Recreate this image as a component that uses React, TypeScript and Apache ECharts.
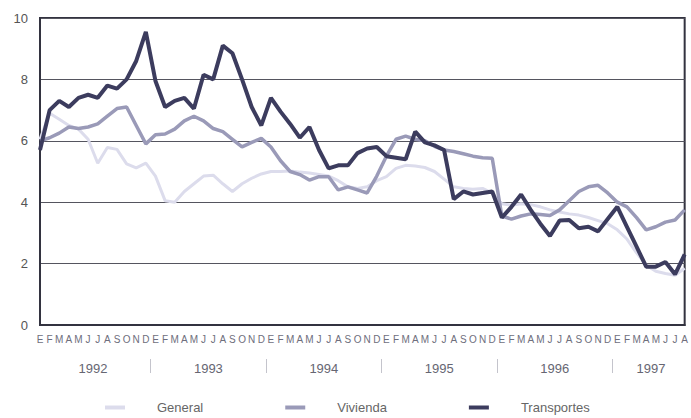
import React, { useEffect, useRef } from "react";
import * as echarts from "echarts";

const months = [
  "E","F","M","A","M","J","J","A","S","O","N","D",
  "E","F","M","A","M","J","J","A","S","O","N","D",
  "E","F","M","A","M","J","J","A","S","O","N","D",
  "E","F","M","A","M","J","J","A","S","O","N","D",
  "E","F","M","A","M","J","J","A","S","O","N","D",
  "E","F","M","A","M","J","J","A",
];

const years = ["1992", "1993", "1994", "1995", "1996", "1997"];
const yearCenters = [5.5, 17.5, 29.5, 41.5, 53.5, 63.5];
const yearSeparators = [11.5, 23.5, 35.5, 47.5, 59.5];

const general = [
  6.05, 6.9, 6.7, 6.5, 6.38, 6.05, 5.27, 5.78, 5.72, 5.25, 5.12, 5.27,
  4.85, 4.05, 4.0, 4.35, 4.6, 4.85, 4.88, 4.6, 4.35, 4.6, 4.78, 4.92,
  5.0, 5.0, 5.02, 4.98, 4.95, 4.9, 4.85, 4.7, 4.5, 4.45, 4.5, 4.7,
  4.83, 5.1, 5.2, 5.18, 5.13, 5.0, 4.75, 4.5, 4.45, 4.42, 4.45, 4.3,
  3.95, 3.9, 3.95, 3.92, 3.85, 3.75, 3.68, 3.62, 3.58, 3.5, 3.4, 3.3,
  3.1, 2.8, 2.35, 1.95, 1.75, 1.68, 1.62, 1.85,
];

const vivienda = [
  6.0, 6.1, 6.25, 6.45, 6.4, 6.45, 6.55, 6.8, 7.05, 7.1, 6.5, 5.9,
  6.2, 6.22, 6.38, 6.65, 6.8, 6.65, 6.4, 6.3, 6.05, 5.8, 5.95, 6.08,
  5.8, 5.35, 5.0, 4.9, 4.72, 4.83, 4.83, 4.4, 4.5, 4.4, 4.3, 4.85,
  5.5, 6.05, 6.15, 6.05, 6.0, 5.82, 5.7, 5.65, 5.58, 5.5, 5.45, 5.43,
  3.55, 3.45, 3.55, 3.62, 3.6, 3.57, 3.75, 4.05, 4.35, 4.5, 4.55, 4.3,
  4.0, 3.85, 3.5, 3.1, 3.2, 3.35, 3.42, 3.75,
];

const transportes = [
  5.7, 7.0, 7.3, 7.1, 7.4, 7.5, 7.4, 7.8, 7.7, 8.0, 8.6, 9.55,
  7.95, 7.1, 7.3, 7.4, 7.05, 8.15, 8.0, 9.1, 8.85, 8.0, 7.1, 6.5,
  7.4, 6.95, 6.55, 6.1, 6.45, 5.7, 5.1, 5.2, 5.2, 5.6, 5.75, 5.8,
  5.5, 5.45, 5.4, 6.3, 5.95, 5.85, 5.7, 4.1, 4.35, 4.25, 4.3, 4.35,
  3.5, 3.85, 4.25, 3.75, 3.3, 2.9, 3.4, 3.42, 3.15, 3.2, 3.05, 3.45,
  3.85, 3.2, 2.55, 1.9, 1.9, 2.05, 1.65, 2.3,
];

const FONT = "Liberation Sans, Arial, sans-serif";

export default function App() {
  const ref = useRef<HTMLDivElement>(null);
  useEffect(() => {
    if (!ref.current) return;
    const chart = echarts.init(ref.current, null, { renderer: "svg" });
    chart.setOption({
      animation: false,
      backgroundColor: "#ffffff",
      textStyle: { fontFamily: FONT },
      grid: {
        left: 40,
        right: 3,
        top: 18,
        bottom: 93,
        show: true,
        borderColor: "#333340",
        borderWidth: 2,
      },
      legend: {
        data: ["General", "Vivienda", "Transportes"],
        left: 100,
        top: 396,
        icon: "rect",
        itemWidth: 20,
        itemHeight: 4,
        itemGap: 82,
        textStyle: {
          fontSize: 13,
          color: "#666",
          fontFamily: FONT,
          padding: [0, 0, 0, 27],
        },
      },
      xAxis: [
        {
          type: "category",
          data: months,
          boundaryGap: false,
          axisLine: { lineStyle: { color: "#333340", width: 2 } },
          axisTick: { show: false },
          axisLabel: {
            interval: 0,
            fontSize: 10,
            color: "#6e6e7c",
            margin: 9,
            fontFamily: FONT,
          },
          splitLine: { show: false },
        },
        {
          type: "value",
          min: 0,
          max: 67,
          position: "bottom",
          offset: 34,
          axisLine: { show: false },
          axisTick: {
            show: true,
            customValues: yearSeparators,
            length: 14,
            lineStyle: { color: "#c4c4cc", width: 1 },
          },
          axisLabel: {
            customValues: yearCenters,
            formatter: (v: number) => {
              const i = yearCenters.findIndex((c) => Math.abs(c - v) < 0.01);
              return i >= 0 ? years[i] : "";
            },
            fontSize: 13,
            color: "#666672",
            margin: 3,
            fontFamily: FONT,
          },
          splitLine: { show: false },
        },
      ],
      yAxis: {
        type: "value",
        min: 0,
        max: 10,
        interval: 2,
        axisLine: { show: true, lineStyle: { color: "#333340", width: 2 } },
        axisTick: { show: false },
        axisLabel: { fontSize: 13, color: "#555", margin: 12, fontFamily: FONT },
        splitLine: { lineStyle: { color: "#55555f", width: 1 } },
      },
      series: [
        {
          name: "General",
          type: "line",
          data: general,
          showSymbol: false,
          symbol: "none",
          lineStyle: { color: "#dcdcec", width: 3 },
          itemStyle: { color: "#dcdcec" },
          z: 2,
        },
        {
          name: "Vivienda",
          type: "line",
          data: vivienda,
          showSymbol: false,
          symbol: "none",
          lineStyle: { color: "#9a9ab8", width: 3.5 },
          itemStyle: { color: "#9a9ab8" },
          z: 3,
        },
        {
          name: "Transportes",
          type: "line",
          data: transportes,
          showSymbol: false,
          symbol: "none",
          lineStyle: { color: "#3c3c5e", width: 4 },
          itemStyle: { color: "#3c3c5e" },
          z: 4,
        },
      ],
    });
    return () => chart.dispose();
  }, []);
  return (
    <div
      ref={ref}
      style={{ position: "fixed", left: 0, top: 0, width: 691, height: 418 }}
    />
  );
}
